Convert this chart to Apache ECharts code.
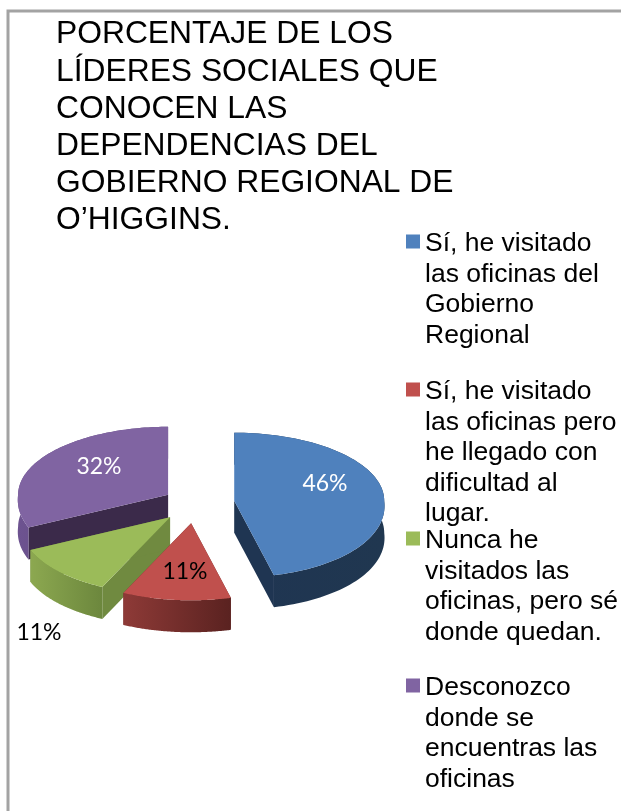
<!DOCTYPE html>
<html><head><meta charset="utf-8">
<style>html,body{margin:0;padding:0;background:#fff}#c{width:621px;height:811px}</style>
<script src="https://cdn.jsdelivr.net/npm/echarts@6/dist/echarts.min.js"></script>
</head><body><div id="c"></div>
<script>
const titleText = "PORCENTAJE DE LOS\nLÍDERES SOCIALES QUE\nCONOCEN LAS\nDEPENDENCIAS DEL\nGOBIERNO REGIONAL DE\nO’HIGGINS.";
const categories = [
  "Sí, he visitado\nlas oficinas del\nGobierno\nRegional",
  "Sí, he visitado\nlas oficinas pero\nhe llegado con\ndificultad al\nlugar.",
  "Nunca he\nvisitados las\noficinas, pero sé\ndonde quedan.",
  "Desconozco\ndonde se\nencuentras las\noficinas"
];
const values = [46, 11, 11, 32];

// styling and layout, kept apart from the data
const topColors = ['#4f81bd', '#c0504d', '#9bbb59', '#8064a2'];
const radialWall = ['#1f3552', '#6f2e2c', '#708a40', '#3b2a4a'];
const outerWall = [['#1f3552', '#203750'], ['#8e3a37', '#5a2220'], ['#8ca850', '#6c873d'], ['#6d5390', '#5a4475']];
const labelColors = ['#fff', '#000', '#000', '#fff'];
const labelPos = [[325, 484], [185, 572], [39, 633], [99, 467]];
const sliceNudge = [0, -4, -3, 0];
const legendTextY = [244, 392, 541, 688];
const PIE = {cx: 198.5, cy: 502.5, a: 150, aFront: 10, bBack: 68, bFront: 77, explode: 36, exBack: 0.4, exFront: 0.58, depth: 32};
const LH = 30.5;

const total = values.reduce((s, v) => s + v, 0);
const starts = [];
values.reduce((s, v, i) => (starts[i] = s, s + v), 0);
const rad = v => v / total * 2 * Math.PI;

function renderSlice(i) {
  const a0 = rad(starts[i]), a1 = rad(starts[i] + values[i]), mid = (a0 + a1) / 2;
  const mx = Math.sin(mid) * PIE.explode, my = -Math.cos(mid) * PIE.explode;
  const cx = PIE.cx + mx + sliceNudge[i], cy = PIE.cy + my * (my > 0 ? PIE.exFront : PIE.exBack);
  const pt = t => {
    const c = -Math.cos(t);
    const a = PIE.a + PIE.aFront * Math.max(0, c);
    return [cx + a * Math.sin(t), cy + c * (c > 0 ? PIE.bFront : PIE.bBack)];
  };
  const n = 90, arc = [];
  for (let k = 0; k <= n; k++) arc.push(pt(a0 + (a1 - a0) * k / n));
  const down = p => [p[0], p[1] + PIE.depth];
  const apex = [cx, cy];
  const wall = (p, q) => ({type: 'polygon', shape: {points: [p, q, down(q), down(p)]}, style: {fill: radialWall[i]}});
  const lg = new echarts.graphic.LinearGradient(0, 0, 1, 0, [
    {offset: 0, color: outerWall[i][0]}, {offset: 1, color: outerWall[i][1]}]);
  return {type: 'group', children: [
    wall(apex, arc[0]),
    wall(apex, arc[n]),
    {type: 'polygon', shape: {points: arc.concat(arc.map(down).reverse())}, style: {fill: lg}},
    {type: 'polygon', shape: {points: [apex].concat(arc)}, style: {fill: topColors[i]}},
    {type: 'text', z2: 10, style: {x: labelPos[i][0], y: labelPos[i][1], text: values[i] + '%',
      fill: labelColors[i], font: '23px Lato', align: 'center', verticalAlign: 'middle'}}
  ]};
}

// painter's order: the back slices first
const series = categories.map((name, i) => ({
  type: 'custom', name, coordinateSystem: 'none', silent: true, animation: false,
  itemStyle: {color: topColors[i]},
  data: [[values[i]]],
  renderItem: () => renderSlice(i)
})).reverse();

const legend = categories.map((name, i) => {
  const lines = name.split('\n').length;
  return {
    data: [name], orient: 'vertical', left: 406, padding: 0,
    top: legendTextY[i] - (2 * lines - 1) * LH / 2,
    // a 14px square in a 19px tall symbol box: it sits slightly above the text's middle
    icon: 'path://M0,0H14V14H0Z M0,19L14,19Z', itemWidth: 14, itemHeight: 19, itemGap: 0, selectedMode: false,
    // the icon sits at the block's middle: leading empty lines bring the first line level with it
    formatter: s => '\n'.repeat(lines - 1) + s,
    textStyle: {fontFamily: 'Liberation Sans', fontSize: 26.5, color: '#000', lineHeight: LH}
  };
});

const chart = echarts.init(document.getElementById('c'), null, {renderer: 'canvas'});
chart.setOption({
  animation: false,
  backgroundColor: '#fff',
  title: {text: titleText, left: 56, top: 16, padding: 0,
    textStyle: {fontFamily: 'Liberation Sans', fontSize: 31.8, fontWeight: 'normal', color: '#000', lineHeight: 37.2}},
  legend,
  graphic: [{type: 'rect', silent: true, z: -1, shape: {x: 8, y: 11, width: 700, height: 900},
    style: {fill: 'none', stroke: '#a3a3a3', lineWidth: 3}}],
  series
});
</script></body></html>
